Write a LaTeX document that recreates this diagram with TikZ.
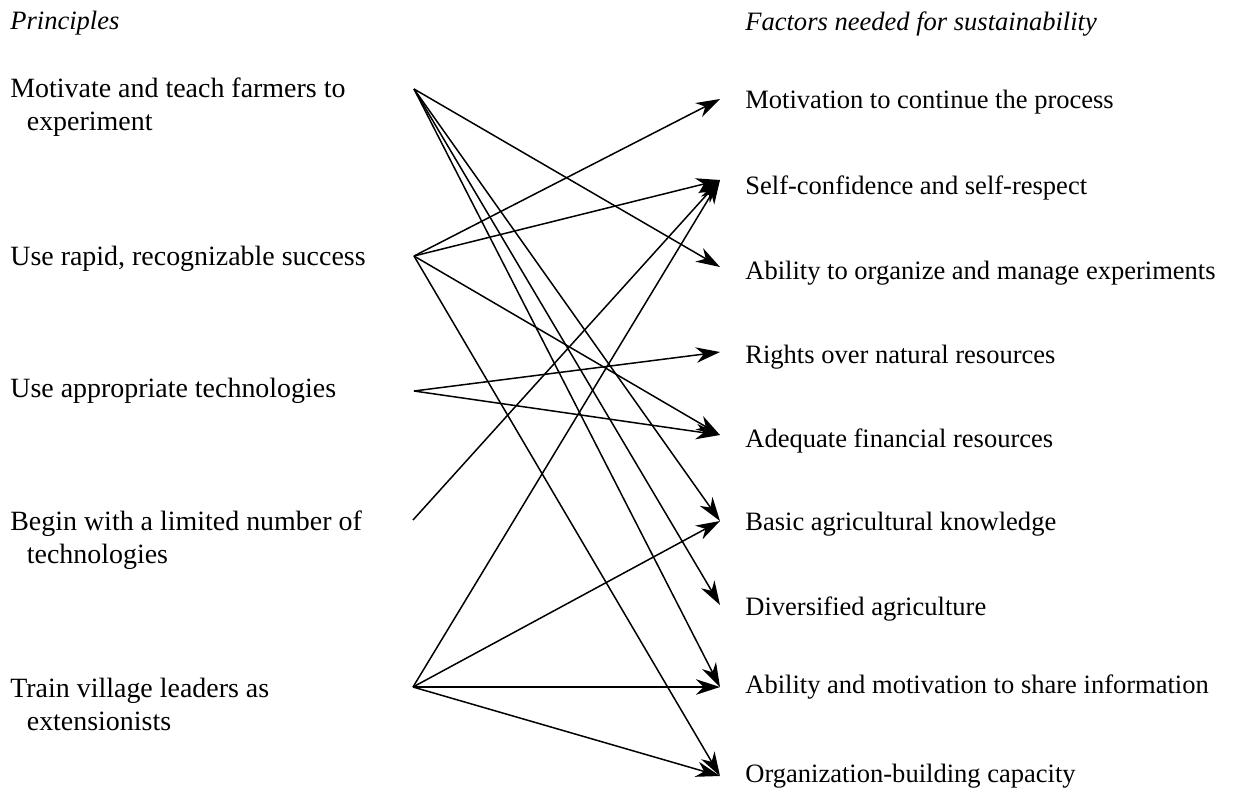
\documentclass[tikz,border=0pt]{standalone}
\usepackage{fontspec}
\setmainfont{Liberation Serif}
\usetikzlibrary{arrows.meta}
\tikzset{
  principle/.style={anchor=base west, inner sep=0pt, align=left,
    font=\fontsize{15.9}{18.6}\selectfont},
  factor/.style={anchor=base west, inner sep=0pt,
    font=\fontsize{15.1}{18.8}\selectfont},
  colhead/.style={anchor=base west, inner sep=0pt,
    font=\fontsize{15.1}{18.8}\selectfont\itshape},
  link/.style={-{Stealth[length=4.8mm, width=3.1mm, inset=1.5mm]}, line width=0.85pt},
}

\begin{document}
\begin{tikzpicture}[x=0.02cm, y=-0.02cm]
\useasboundingbox (0,0) rectangle (1256,789);

% ---------- column heads ----------
\node[colhead] (head-p) at (10,29) {Principles};
\node[colhead] (head-f) at (745,30) {Factors needed for sustainability};

% ---------- principles (base = last line) ----------
\node[principle] (motivate) at (10,130)
  {Motivate and teach farmers to\\\hspace*{0.33cm}experiment};
\node[principle] (rapid) at (10,265) {Use rapid, recognizable success};
\node[principle] (approp) at (10,397) {Use appropriate technologies};
\node[principle] (begin) at (10,563)
  {Begin with a limited number of\\\hspace*{0.33cm}technologies};
\node[principle] (train) at (10,730)
  {Train village leaders as\\\hspace*{0.33cm}extensionists};

% ---------- factors ----------
\node[factor] (motiv) at (745,108) {Motivation to continue the process};
\node[factor] (selfconf) at (745,194) {Self-confidence and self-respect};
\node[factor] (organize) at (745,279) {Ability to organize and manage experiments};
\node[factor] (rights) at (745,363) {Rights over natural resources};
\node[factor] (finance) at (745,447) {Adequate financial resources};
\node[factor] (basic) at (745,530) {Basic agricultural knowledge};
\node[factor] (diverse) at (745,615) {Diversified agriculture};
\node[factor] (share) at (745,693) {Ability and motivation to share information};
\node[factor] (orgbuild) at (745,782) {Organization-building capacity};

% ---------- line ends ----------
\coordinate (motivate-o) at (414,89);
\coordinate (rapid-o) at (414,256);
\coordinate (approp-o) at (414,391);
\coordinate (begin-o) at (413,520);
\coordinate (train-o) at (413,687);

\coordinate (motiv-i) at (720,99);
\coordinate (selfconf-i) at (720,180);
\coordinate (organize-i) at (720,267);
\coordinate (rights-i) at (720,352);
\coordinate (finance-i) at (720,435);
\coordinate (basic-i) at (720,521);
\coordinate (diverse-i) at (720,605);
\coordinate (share-i) at (720,687);
\coordinate (orgbuild-i) at (720,776);

% ================= Links =================
\foreach \t in {organize,basic,diverse,share}
  \draw[link] (motivate-o) -- (\t-i);
\foreach \t in {motiv,selfconf,finance,orgbuild}
  \draw[link] (rapid-o) -- (\t-i);
\foreach \t in {rights,finance}
  \draw[link] (approp-o) -- (\t-i);
\draw[link] (begin-o) -- (selfconf-i);
\foreach \t in {selfconf,basic,share,orgbuild}
  \draw[link] (train-o) -- (\t-i);

\end{tikzpicture}
\end{document}
